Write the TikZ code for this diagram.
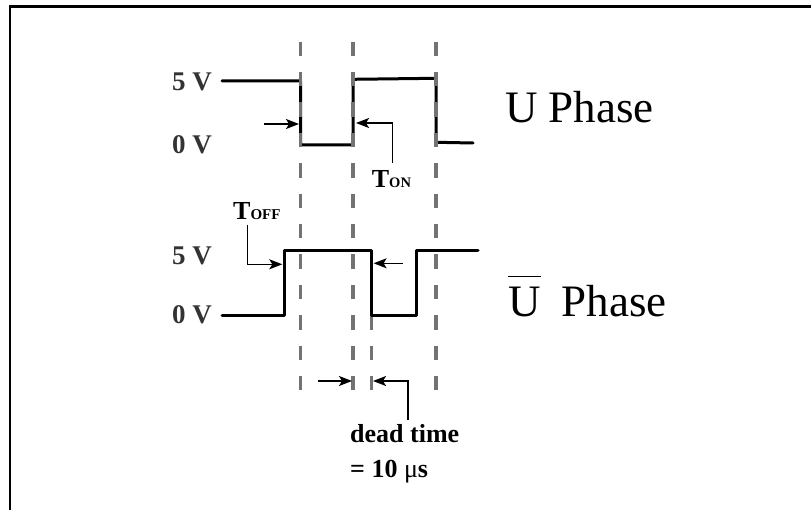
\documentclass[tikz,border=0pt]{standalone}
\usepackage{fontspec}
\setmainfont{Liberation Serif}
\usetikzlibrary{arrows.meta}
\begin{document}
\begin{tikzpicture}[x=1pt,y=-1pt,
  wave/.style={line width=3pt, line join=round, line cap=round},
  guide/.style={line width=3.3pt, draw=black!55, dash pattern=on 14.4pt off 16pt},
  pointer/.style={line width=1.5pt, -{Stealth[length=13pt,width=10pt,inset=3pt]}},
  lvl/.style={font=\fontsize{27}{30}\selectfont\bfseries, text=black!80, anchor=base west, inner sep=0pt},
  phase/.style={font=\fontsize{45}{50}\selectfont, anchor=base west, inner sep=0pt},
  note/.style={font=\fontsize{26}{30}\selectfont\bfseries, anchor=base west, inner sep=0pt},
]
\useasboundingbox (0,0) rectangle (811,510);
% frame
\draw[line width=2.4pt] (10,511) -- (10,6.7) -- (812,6.7);

% U phase waveform (under the guides)
\draw[wave] (222,81) -- (300.7,81) -- (300.7,145) -- (353,145) -- (353,79.3) -- (436,78.3) -- (436,142.3) -- (473,143);

% guides
\foreach \gx in {300.7,353,436}
  \draw[guide] (\gx,41.7) -- (\gx,392);
\draw[guide] (371.7,254.5) -- (371.7,392);

% U-bar phase waveform (over the guides)
\draw[wave] (222,316) -- (284,316) -- (284,250.7) -- (371.7,250.7) -- (371.7,316) -- (416.7,316) -- (416.7,250.7) -- (478,250.7);

% level labels
\node[lvl] (u5) at (172,90.7) {5 V};
\node[lvl] (u0) at (172,153.3) {0 V};
\node[lvl] (b5) at (172,264.5) {5 V};
\node[lvl] (b0) at (172,324) {0 V};

% phase labels
\node[phase] (uph) at (505,122.7) {U Phase};
\node[phase] (ubar) at (508,316.7) {U};
\draw[line width=1.8pt] ([yshift=10.5pt]ubar.north west) -- ([yshift=10.5pt]ubar.north east);
\node[phase] (bph) at (561.7,316.7) {Phase};

% T_ON / T_OFF labels
\node[anchor=base west, inner sep=0pt] (ton) at (371.7,187.7)
  {\bfseries\fontsize{26}{28}\selectfont T\fontsize{14.5}{16}\selectfont ON};
\node[anchor=base west, inner sep=0pt] (toff) at (233,219.3)
  {\bfseries\fontsize{26}{28}\selectfont T\fontsize{15}{16}\selectfont OFF};

% dead-time label
\node[note] (dt) at (350,442.7) {dead time};
\node[note] (dv) at (350,477.7) {= 10 {\mdseries μ}s};

% arrow coordinates
\coordinate (a1s) at (264,124);   \coordinate (a1e) at (299,124);
\coordinate (a2s) at (392.7,163); \coordinate (a2k) at (392.7,123); \coordinate (a2e) at (356,123);
\coordinate (a3s) at (247.7,225); \coordinate (a3k) at (247.7,264.3); \coordinate (a3e) at (282.3,264.3);
\coordinate (a4s) at (402.7,263.3); \coordinate (a4e) at (373.6,263.3);
\coordinate (a5s) at (318,381);   \coordinate (a5e) at (352,381);
\coordinate (a6s) at (408,420);   \coordinate (a6k) at (408,381); \coordinate (a6e) at (373,381);

\draw[pointer] (a1s) -- (a1e);
\draw[pointer] (a2s) -- (a2k) -- (a2e);
\draw[pointer] (a3s) -- (a3k) -- (a3e);
\draw[pointer] (a4s) -- (a4e);
\draw[pointer] (a5s) -- (a5e);
\draw[pointer] (a6s) -- (a6k) -- (a6e);
\end{tikzpicture}
\end{document}
